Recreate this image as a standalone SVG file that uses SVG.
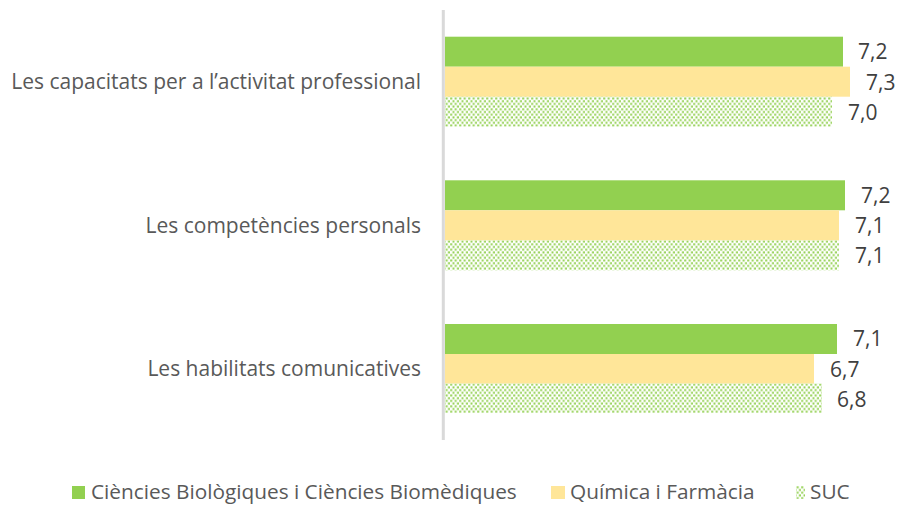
<svg xmlns="http://www.w3.org/2000/svg" width="898" height="506" viewBox="0 0 898 506">
  <defs>
    <pattern id="dots" width="4.5" height="5.4" patternUnits="userSpaceOnUse">
      <rect x="0.2" y="0.3" width="2" height="2" fill="#92D050"/>
      <rect x="2.45" y="3" width="2" height="2" fill="#92D050"/>
    </pattern>
    <style>
      .bio { fill: #92D050; }
      .qui { fill: #FFE699; }
      .suc { fill: url(#dots); }
      .cat { font-family: "Open Sans", "Liberation Sans", sans-serif; font-size: 21px; fill: #595959; text-anchor: end; }
      .val { font-family: "Open Sans", "Liberation Sans", sans-serif; font-size: 21px; fill: #404040; }
      .leg { font-family: "Open Sans", "Liberation Sans", sans-serif; font-size: 20.8px; fill: #595959; }
      .axis { stroke: #D9D9D9; stroke-width: 3; fill: none; }
    </style>
  </defs>
  <rect width="898" height="506" fill="#FFFFFF"/>

  <g id="connectors">
    <line class="axis" x1="443.3" y1="10" x2="443.3" y2="440"/>
  </g>

  <g id="group-capacitats">
    <text class="cat" x="421" y="89">Les capacitats per a l’activitat professional</text>
    <rect class="bio" x="445" y="36.7" width="398" height="30"/>
    <rect class="qui" x="445" y="66.7" width="405" height="30"/>
    <rect class="suc" x="445" y="96.7" width="387" height="30"/>
    <text class="val" x="858" y="59">7,2</text>
    <text class="val" x="866" y="89.5">7,3</text>
    <text class="val" x="848" y="119.5">7,0</text>
  </g>

  <g id="group-competencies">
    <text class="cat" x="421" y="232.6">Les competències personals</text>
    <rect class="bio" x="445" y="180.3" width="400" height="30"/>
    <rect class="qui" x="445" y="210.3" width="394" height="30"/>
    <rect class="suc" x="445" y="240.3" width="394" height="30"/>
    <text class="val" x="861" y="202.6">7,2</text>
    <text class="val" x="855" y="233">7,1</text>
    <text class="val" x="855" y="263">7,1</text>
  </g>

  <g id="group-habilitats">
    <text class="cat" x="421" y="376">Les habilitats comunicatives</text>
    <rect class="bio" x="445" y="324" width="392" height="30"/>
    <rect class="qui" x="445" y="354" width="369" height="29.5"/>
    <rect class="suc" x="445" y="383.5" width="377" height="29.5"/>
    <text class="val" x="853" y="346">7,1</text>
    <text class="val" x="830" y="376.5">6,7</text>
    <text class="val" x="837" y="406.5">6,8</text>
  </g>

  <g id="legend">
    <rect class="bio" x="72" y="486" width="13" height="13"/>
    <text class="leg" x="91" y="499">Ciències Biològiques i Ciències Biomèdiques</text>
    <rect class="qui" x="551" y="486" width="14" height="13"/>
    <text class="leg" x="570" y="499">Química i Farmàcia</text>
    <rect class="suc" x="796" y="486" width="9" height="13"/>
    <text class="leg" x="810" y="499">SUC</text>
  </g>
</svg>
